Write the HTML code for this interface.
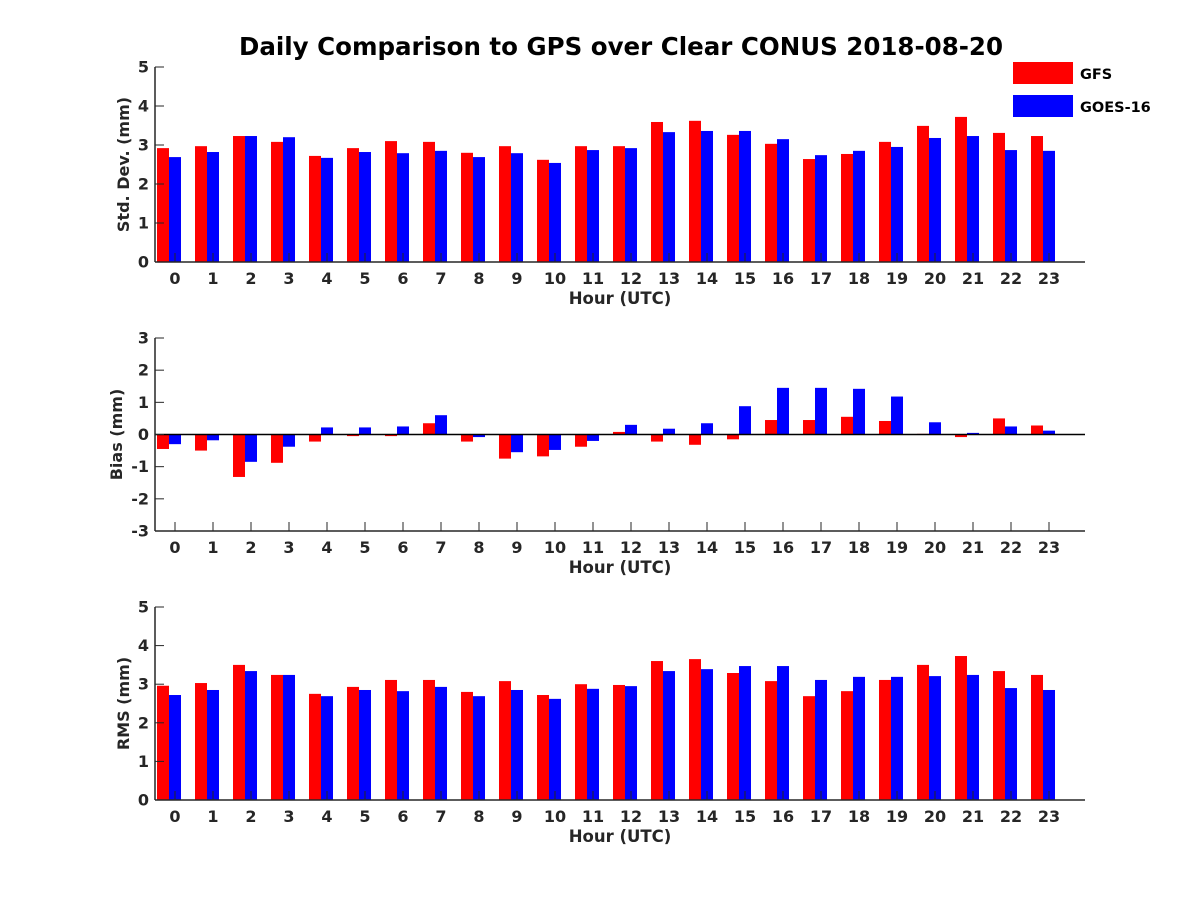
<!DOCTYPE html>
<html><head><meta charset="utf-8"><style>
body{margin:0;background:#fff}
svg{display:block;font-family:"DejaVu Sans","Liberation Sans",sans-serif;font-weight:bold}
</style></head><body>
<svg id="c" width="1200" height="900" viewBox="0 0 1200 900">
<rect width="1200" height="900" fill="#fff"/>
<text x="621" y="55" text-anchor="middle" font-size="24.5" fill="#000">Daily Comparison to GPS over Clear CONUS 2018-08-20</text>
<g>
<rect x="1013" y="62" width="60" height="22" fill="#ff0000"/>
<text x="1080" y="79" font-size="14.5">GFS</text>
<rect x="1013" y="95" width="60" height="22" fill="#0000ff"/>
<text x="1080" y="112" font-size="14.5">GOES-16</text>
</g>
</svg>
<script>
const hours=[0,1,2,3,4,5,6,7,8,9,10,11,12,13,14,15,16,17,18,19,20,21,22,23];
const stdGFS=[2.92,2.97,3.23,3.08,2.72,2.92,3.1,3.08,2.8,2.97,2.62,2.97,2.97,3.59,3.62,3.26,3.03,2.64,2.77,3.08,3.49,3.72,3.31,3.23];
const stdGOES=[2.69,2.82,3.23,3.2,2.67,2.82,2.79,2.85,2.69,2.79,2.54,2.87,2.92,3.33,3.36,3.36,3.15,2.74,2.85,2.95,3.18,3.23,2.87,2.85];
const biasGFS=[-0.45,-0.5,-1.32,-0.88,-0.22,-0.05,-0.05,0.35,-0.22,-0.75,-0.68,-0.38,0.08,-0.22,-0.32,-0.15,0.45,0.45,0.55,0.42,0.02,-0.08,0.5,0.28];
const biasGOES=[-0.3,-0.18,-0.85,-0.38,0.22,0.22,0.25,0.6,-0.08,-0.55,-0.48,-0.2,0.3,0.18,0.35,0.88,1.45,1.45,1.42,1.18,0.38,0.05,0.25,0.12];
const rmsGFS=[2.96,3.03,3.5,3.24,2.75,2.93,3.11,3.11,2.8,3.08,2.72,3.0,2.98,3.6,3.65,3.29,3.08,2.69,2.82,3.11,3.5,3.73,3.34,3.24];
const rmsGOES=[2.72,2.85,3.34,3.24,2.69,2.85,2.82,2.93,2.69,2.85,2.62,2.88,2.95,3.34,3.39,3.47,3.47,3.11,3.19,3.19,3.21,3.24,2.9,2.85];
const stdTicks=[0,1,2,3,4,5];
const biasTicks=[-3,-2,-1,0,1,2,3];
const rmsTicks=[0,1,2,3,4,5];
const NS="http://www.w3.org/2000/svg";
const svg=document.getElementById('c');
function mk(t,a,p){const e=document.createElementNS(NS,t);for(const k in a)e.setAttribute(k,a[k]);(p||svg).appendChild(e);return e;}
const X0=155,X1=1085;
const xs=h=>175+h*38;
function panel(name,top,bot,ymin,ymax,ticks,red,blue,label,zeroLine,labX){
  const g=mk('g',{});
  
  
  const ys=v=>bot-(v-ymin)/(ymax-ymin)*(bot-top);
  const base=ys(Math.max(ymin,0));
  hours.forEach((h,i)=>{
    const r=mk('rect',{x:xs(h)-18,y:Math.min(ys(red[i]),base),width:12,height:Math.abs(ys(red[i])-base),fill:'#ff0000'},g);
    
    
    const b=mk('rect',{x:xs(h)-6,y:Math.min(ys(blue[i]),base),width:12,height:Math.abs(ys(blue[i])-base),fill:'#0000ff'},g);
    
    
  });
  mk('line',{x1:X0,y1:top,x2:X0,y2:bot,stroke:'#262626','stroke-width':1.5},g);
  mk('line',{x1:X0,y1:bot,x2:X1,y2:bot,stroke:'#262626','stroke-width':1.5},g);
  if(zeroLine) mk('line',{x1:X0,y1:ys(0),x2:X1,y2:ys(0),stroke:'#000','stroke-width':1.5},g);
  ticks.forEach(t=>{
    mk('line',{x1:X0,y1:ys(t),x2:X0+9,y2:ys(t),stroke:'#262626','stroke-width':1},g);
    const tx=mk('text',{x:X0-6,y:ys(t)+5.5,'text-anchor':'end','font-size':16,fill:'#262626'},g);
    tx.textContent=t;
    
    
  });
  hours.forEach(h=>{
    mk('line',{x1:xs(h),y1:bot,x2:xs(h),y2:bot-9,stroke:'#262626','stroke-width':1},g);
    const tx=mk('text',{x:xs(h),y:bot+22,'text-anchor':'middle','font-size':16,fill:'#262626'},g);
    tx.textContent=h;
    
    
  });
  const xl=mk('text',{x:620,y:bot+42,'text-anchor':'middle','font-size':16.5,fill:'#262626'},g);
  xl.textContent='Hour (UTC)';
  
  
  const cy=(top+bot)/2;
  const yl=mk('text',{x:0,y:0,transform:`translate(${labX},${cy}) rotate(-90)`,'text-anchor':'middle','font-size':16,fill:'#262626'},g);
  yl.textContent=label;
  
  
}
panel('std-dev-panel',67,262,0,5,stdTicks,stdGFS,stdGOES,'Std. Dev. (mm)',false,129);
panel('bias-panel',338,531,-3,3,biasTicks,biasGFS,biasGOES,'Bias (mm)',true,122);
panel('rms-panel',607,800,0,5,rmsTicks,rmsGFS,rmsGOES,'RMS (mm)',false,129);
</script>
</body></html>
